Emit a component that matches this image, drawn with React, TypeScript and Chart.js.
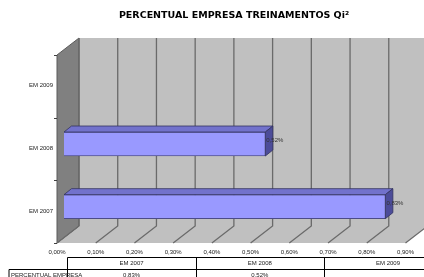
import React, { useEffect, useRef } from "react";
import { Chart, registerables } from "chart.js";

Chart.register(...registerables);

const TITLE = "PERCENTUAL EMPRESA TREINAMENTOS Qi²";
const categories = ["EM 2007", "EM 2008", "EM 2009"];
const values: (number | null)[] = [0.83, 0.52, null];
const seriesName = "PERCENTUAL EMPRESA";
const xTicks = [0, 0.1, 0.2, 0.3, 0.4, 0.5, 0.6, 0.7, 0.8, 0.9];

const fmt = (v: number) => v.toFixed(2).replace(".", ",") + "%";

const FONT = "'Liberation Sans', Arial, sans-serif";
const FX = -7, FY = 5; // front plane offset from chart area
const BX = 15, BY = -12; // back plane offset
const DX = 7.5, DY = -6; // bar depth

const decor = {
  id: "decor3d",
  beforeDatasetsDraw(chart: any) {
    const { ctx, chartArea: a } = chart;
    const xs = chart.scales.x;
    ctx.save();
    // back wall
    ctx.fillStyle = "#c0c0c0";
    ctx.fillRect(a.left + BX, a.top + BY, a.right - a.left, a.bottom - a.top);
    // floor
    ctx.beginPath();
    ctx.moveTo(a.left + FX, a.bottom + FY);
    ctx.lineTo(a.left + BX, a.bottom + BY);
    ctx.lineTo(a.right + BX, a.bottom + BY);
    ctx.lineTo(a.right + FX, a.bottom + FY);
    ctx.closePath();
    ctx.fillStyle = "#c0c0c0";
    ctx.fill();
    // left wall
    ctx.beginPath();
    ctx.moveTo(a.left + FX, a.top + FY);
    ctx.lineTo(a.left + BX, a.top + BY);
    ctx.lineTo(a.left + BX, a.bottom + BY);
    ctx.lineTo(a.left + FX, a.bottom + FY);
    ctx.closePath();
    ctx.fillStyle = "#808080";
    ctx.fill();
    ctx.strokeStyle = "#5a5a5a";
    ctx.lineWidth = 1;
    ctx.stroke();
    // gridlines
    ctx.strokeStyle = "#6a6a6a";
    ctx.lineWidth = 1.3;
    xTicks.forEach((t) => {
      const px = xs.getPixelForValue(t);
      ctx.beginPath();
      ctx.moveTo(px + BX, a.top + BY);
      ctx.lineTo(px + BX, a.bottom + BY);
      ctx.lineTo(px + FX, a.bottom + FY);
      ctx.stroke();
    });
    // y axis ticks on left wall front edge
    const ys = chart.scales.y;
    ctx.strokeStyle = "#404040";
    ctx.lineWidth = 1;
    const n = categories.length;
    for (let i = 0; i <= n; i++) {
      const yy = ys.getPixelForValue(i - 0.5) + FY;
      ctx.beginPath();
      ctx.moveTo(a.left + FX - 3, Math.round(yy) + 0.5);
      ctx.lineTo(a.left + FX, Math.round(yy) + 0.5);
      ctx.stroke();
    }
    ctx.restore();
  },
  afterDatasetsDraw(chart: any) {
    const { ctx } = chart;
    const meta = chart.getDatasetMeta(0);
    ctx.save();
    meta.data.forEach((bar: any, i: number) => {
      const v = values[i];
      if (v == null) return;
      const { x, y, base, height } = bar.getProps(["x", "y", "base", "height"], true);
      const top = y - height / 2;
      const bot = y + height / 2;
      // top face
      ctx.beginPath();
      ctx.moveTo(base, top);
      ctx.lineTo(base + DX, top + DY);
      ctx.lineTo(x + DX, top + DY);
      ctx.lineTo(x, top);
      ctx.closePath();
      ctx.fillStyle = "#7272cc";
      ctx.fill();
      ctx.strokeStyle = "#33335f";
      ctx.lineWidth = 0.8;
      ctx.stroke();
      // right face
      ctx.beginPath();
      ctx.moveTo(x, top);
      ctx.lineTo(x + DX, top + DY);
      ctx.lineTo(x + DX, bot + DY);
      ctx.lineTo(x, bot);
      ctx.closePath();
      ctx.fillStyle = "#4c4c99";
      ctx.fill();
      ctx.stroke();
      // label
      ctx.fillStyle = "#333";
      ctx.font = `6px ${FONT}`;
      ctx.textAlign = "left";
      ctx.textBaseline = "middle";
      ctx.fillText(fmt(v), x + 1, y - 3.5);
    });
    ctx.restore();
  },
  afterDraw(chart: any) {
    const { ctx, width } = chart;
    ctx.save();
    // title
    ctx.fillStyle = "#000";
    ctx.font = `bold 9.5px 'DejaVu Sans', Verdana, sans-serif`;
    ctx.textAlign = "center";
    ctx.textBaseline = "middle";
    ctx.fillText(TITLE, 234, 16);
    // data table
    const x0 = 9, x1 = 67.5, cw = 128.2;
    const yT = 257.5, yM = 269.5, yB = 281.5;
    ctx.strokeStyle = "#000";
    ctx.lineWidth = 1;
    ctx.beginPath();
    ctx.moveTo(x1, yT); ctx.lineTo(width + 5, yT);
    ctx.moveTo(x0, yM); ctx.lineTo(width + 5, yM);
    ctx.moveTo(x0, yM); ctx.lineTo(x0, yB);
    ctx.moveTo(x1, yT); ctx.lineTo(x1, yB);
    for (let i = 1; i < categories.length; i++) {
      const xx = Math.round(x1 + cw * i) + 0.5;
      ctx.moveTo(xx, yT); ctx.lineTo(xx, yB);
    }
    ctx.stroke();
    ctx.font = `6px ${FONT}`;
    ctx.fillStyle = "#222";
    ctx.textAlign = "center";
    categories.forEach((c, i) => {
      const cx = x1 + cw * i + cw / 2;
      ctx.fillText(c, cx, (yT + yM) / 2);
      const v = values[i];
      if (v != null) ctx.fillText(fmt(v), cx, yM + 6);
    });
    ctx.textAlign = "left";
    ctx.fillText(seriesName, x0 + 2, yM + 6);
    ctx.restore();
  },
};

export default function App() {
  const ref = useRef<HTMLCanvasElement>(null);
  useEffect(() => {
    document.body.style.margin = "0";
    const chart = new Chart(ref.current!, {
      type: "bar",
      data: {
        labels: categories,
        datasets: [
          {
            label: seriesName,
            data: values,
            backgroundColor: "#9999ff",
            borderColor: "#33335f",
            borderWidth: 0.8,
            barThickness: 24,
          },
        ],
      },
      options: {
        indexAxis: "y",
        animation: false,
        responsive: false,
        maintainAspectRatio: false,
        layout: { padding: { top: 50, right: 2.5, left: 0, bottom: 0 } },
        plugins: { legend: { display: false }, title: { display: false }, tooltip: { enabled: false } },
        scales: {
          x: {
            min: 0,
            max: 0.9,
            grid: { display: false },
            border: { display: false },
            afterFit: (s: any) => { s.height = 39; },
            afterBuildTicks: (s: any) => { s.ticks = xTicks.map((v) => ({ value: v })); },
            ticks: {
              labelOffset: -7,
              padding: 3,
              color: "#222",
              font: { size: 6, family: FONT },
              callback: (v: any) => fmt(Number(v)),
              autoSkip: false,
              maxRotation: 0,
            },
          },
          y: {
            reverse: true,
            grid: { display: false },
            border: { display: false },
            afterFit: (s: any) => { s.width = 64; },
            ticks: {
              labelOffset: 4.5,
              padding: 3,
              color: "#222",
              font: { size: 6, family: FONT },
            },
          },
        },
      },
      plugins: [decor],
    });
    return () => chart.destroy();
  }, []);
  return (
    <div style={{ width: 424, height: 277, background: "#fff" }}>
      <canvas ref={ref} width={424} height={277} />
    </div>
  );
}
